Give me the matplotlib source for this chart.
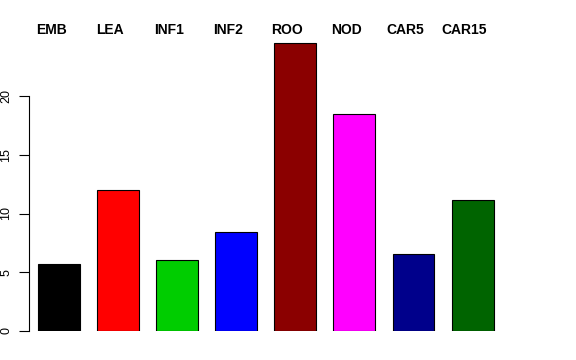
import matplotlib
matplotlib.use("Agg")
import matplotlib.pyplot as plt

categories = ["EMB", "LEA", "INF1", "INF2", "ROO", "NOD", "CAR5", "CAR15"]
values = [5.7, 12.0, 6.05, 8.45, 24.5, 18.45, 6.55, 11.15]
colors = ["#000000", "#FF0000", "#00CD00", "#0000FF", "#8B0000", "#FF00FF", "#00008B", "#006400"]
yticks = [0, 5, 10, 15, 20]

plt.rcParams['font.family'] = ['Liberation Sans', 'DejaVu Sans']

fig = plt.figure(figsize=(5.76, 3.6), dpi=100)
ppu = 11.75
ppx = 59.1
ax = fig.add_axes([29/576, (360-331)/360, (508-29)/576, 25*ppu/360])
x = list(range(len(categories)))
ax.bar(x, values, width=0.71, color=colors, edgecolor="black", linewidth=0.8)
ax.set_xlim(-0.508, 7.6)
ax.set_ylim(0, 25)
for s in ["top", "right", "bottom"]:
    ax.spines[s].set_visible(False)
ax.spines["left"].set_bounds(0, 20)
ax.spines["left"].set_linewidth(0.8)
ax.set_xticks([])
ax.set_yticks(yticks)
ax.set_yticklabels([str(t) for t in yticks], rotation=90, va="center", fontsize=9)
ax.tick_params(axis="y", length=7, width=0.8, pad=5)
for xi, c in zip(x, categories):
    ax.text(xi - 8/ppx, (331-30)/ppu, c, ha="center", va="center", fontsize=10,
            fontweight="bold", clip_on=False)
fig.savefig("out.png", dpi=100)
